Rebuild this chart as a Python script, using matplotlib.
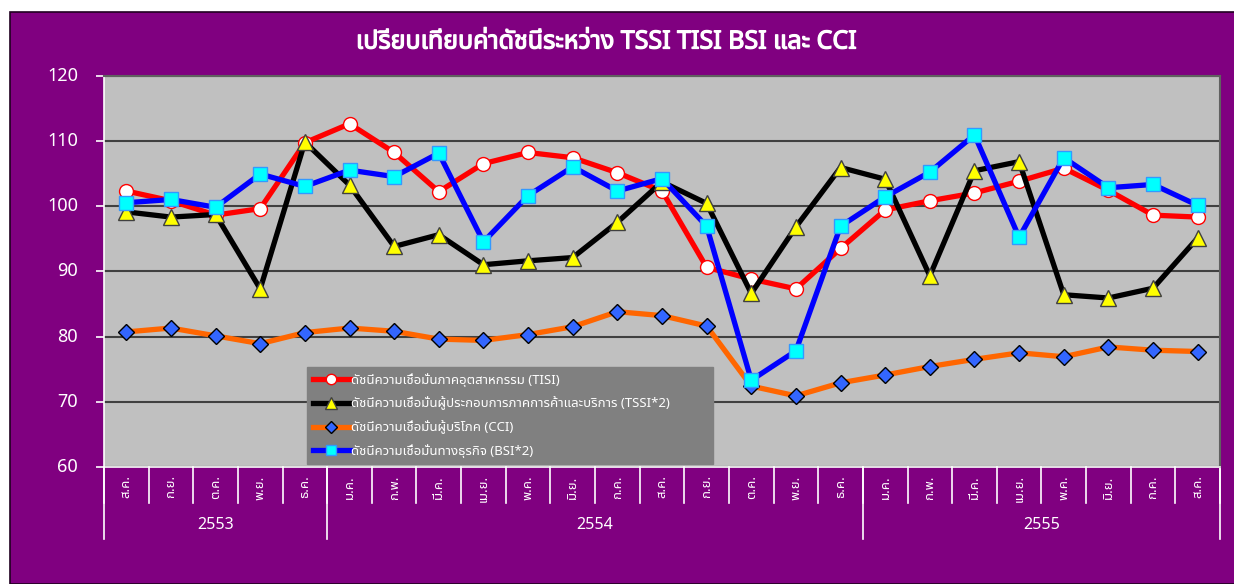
import numpy as np
import matplotlib
matplotlib.use("Agg")
import matplotlib.pyplot as plt
from matplotlib import font_manager
from matplotlib.ft2font import FT2Font
from matplotlib.patches import Rectangle
import matplotlib.patheffects as pe
import matplotlib.transforms as mtransforms

# --- data ---
months = ['ส.ค.', 'ก.ย.', 'ต.ค.', 'พ.ย.', 'ธ.ค.',
          'ม.ค.', 'ก.พ.', 'มี.ค.', 'เม.ย.', 'พ.ค.', 'มิ.ย.', 'ก.ค.', 'ส.ค.', 'ก.ย.', 'ต.ค.', 'พ.ย.', 'ธ.ค.',
          'ม.ค.', 'ก.พ.', 'มี.ค.', 'เม.ย.', 'พ.ค.', 'มิ.ย.', 'ก.ค.', 'ส.ค.']
years = ['2553', '2554', '2555']
year_sizes = [5, 12, 8]
yticks = [60, 70, 80, 90, 100, 110, 120]

tisi = [102.3, 100.8, 98.6, 99.6, 109.7, 112.6, 108.2, 102.2, 106.5, 108.2, 107.4, 105.1, 102.3,
        90.6, 88.8, 87.3, 93.5, 99.4, 100.8, 102.0, 103.8, 105.8, 102.4, 98.6, 98.3]
tssi = [99.1, 98.3, 98.7, 87.3, 109.8, 103.2, 93.8, 95.6, 91.0, 91.6, 92.1, 97.5, 103.7,
        100.4, 86.6, 96.8, 105.9, 104.1, 89.3, 105.4, 106.8, 86.4, 85.9, 87.4, 95.1]
cci = [80.7, 81.3, 80.1, 78.9, 80.6, 81.3, 80.8, 79.6, 79.4, 80.3, 81.5, 83.8, 83.2,
       81.6, 72.4, 70.9, 72.9, 74.1, 75.4, 76.5, 77.5, 76.9, 78.4, 77.9, 77.7]
bsi = [100.5, 101.0, 99.8, 104.9, 103.0, 105.5, 104.5, 108.1, 94.5, 101.6, 106.0, 102.3, 104.2,
       96.9, 73.3, 77.8, 96.9, 101.4, 105.2, 110.9, 95.2, 107.4, 102.8, 103.3, 100.1]

labels = ['ดัชนีความเชื่อมั่นภาคอุตสาหกรรม (TISI)',
          'ดัชนีความเชื่อมั่นผู้ประกอบการภาคการค้าและบริการ (TSSI*2)',
          'ดัชนีความเชื่อมั่นผู้บริโภค (CCI)',
          'ดัชนีความเชื่อมั่นทางธุรกิจ (BSI*2)']
title = 'เปรียบเทียบค่าดัชนีระหว่าง TSSI TISI BSI และ CCI'


def thai_family():
    preferred = ['Tahoma', 'Noto Sans Thai', 'Noto Sans Thai UI', 'Loma', 'Garuda', 'Norasi',
                 'Waree', 'Sarabun', 'TH Sarabun New', 'FreeSans']
    found = {}
    paths = set(font_manager.findSystemFonts()) | {f.fname for f in font_manager.fontManager.ttflist}
    for p in paths:
        try:
            if 0x0E14 in FT2Font(p).get_charmap():
                name = font_manager.FontProperties(fname=p).get_name()
                font_manager.fontManager.addfont(p)
                found[name] = p
        except Exception:
            pass
    for name in preferred:
        if name in found:
            return name
    return sorted(found)[0] if found else None


thai = thai_family()
fams = ([thai] if thai else []) + ['DejaVu Sans']
plt.rcParams['font.family'] = fams

purple = '#800080'
fig = plt.figure(figsize=(12.34, 5.84), dpi=100, facecolor='white')
W, H = 1234, 584
fig.patches.append(Rectangle((10 / W, 0), 1 - 10 / W + 0.01, 1 - 12 / H, transform=fig.transFigure,
                             facecolor=purple, edgecolor='#200020', linewidth=1.2, zorder=-10))

ax = fig.add_axes([104 / W, 1 - 467 / H, (1220 - 104) / W, (467 - 75.5) / H])
ax.set_facecolor('#C0C0C0')
x = np.arange(len(months))

ax.plot(x, tisi, color='#FF0000', lw=3.8, marker='o', ms=10, mfc='white', mec='#FF0000', mew=1, label=labels[0])
ax.plot(x, tssi, color='black', lw=3.8, marker='^', ms=11, mfc='#FFFF00', mec='#404040', mew=1, label=labels[1])
ax.plot(x, cci, color='#FF6600', lw=3.8, marker='D', ms=8, mfc='#3366FF', mec='black', mew=1, label=labels[2])
ax.plot(x, bsi, color='#0000FF', lw=3.8, marker='s', ms=10, mfc='#00FFFF', mec='#3399FF', mew=1, label=labels[3])

ax.set_xlim(-0.5, len(months) - 0.5)
ax.set_ylim(60, 120)
ax.set_yticks(yticks)
ax.set_yticklabels([])
ax.yaxis.grid(True, color='#404040', lw=1.5)
ax.set_axisbelow(True)
ax.tick_params(axis='y', colors='white', length=6, width=1.2)

# y labels placed by hand so they sit right-aligned at the reference spot
ytrans = mtransforms.blended_transform_factory(fig.transFigure, ax.transData)
for v in yticks:
    fig.text(78 / W, v, str(v), transform=ytrans, ha='right', va='center', color='white', fontsize=13)

for s in ['top', 'right']:
    ax.spines[s].set_color('#606060')
    ax.spines[s].set_linewidth(1.5)
ax.spines['left'].set_color('white')
ax.spines['bottom'].set_color('white')
ax.spines['left'].set_linewidth(1.2)
ax.spines['bottom'].set_linewidth(1.2)

# month labels
ax.set_xticks(x)
ax.set_xticklabels(months, rotation=90, fontsize=9.5, color='white')
ax.tick_params(axis='x', length=0, pad=6)

# category separators and year groups
trans = mtransforms.blended_transform_factory(ax.transData, ax.transAxes)
ax_h = 467 - 75.5
for b in np.arange(len(months) + 1) - 0.5:
    ax.plot([b, b], [0, -36 / ax_h], color='white', lw=1.2, transform=trans, clip_on=False)
edges = np.concatenate([[0], np.cumsum(year_sizes)]) - 0.5
for b in edges:
    ax.plot([b, b], [0, -72 / ax_h], color='white', lw=1.2, transform=trans, clip_on=False)
for i, yr in enumerate(years):
    ax.text((edges[i] + edges[i + 1]) / 2, -58 / ax_h, yr, transform=trans, ha='center', va='center',
            color='white', fontsize=11.5)

leg = ax.legend(loc='upper left', bbox_to_anchor=(307 / W, 1 - 463 / H, (713 - 307) / W, (463 - 367) / H),
                bbox_transform=fig.transFigure, mode='expand', borderaxespad=0, frameon=True, fancybox=False,
                fontsize=9.5, handlelength=2.8, handletextpad=0.1, labelspacing=0.75, borderpad=0.45,
                markerscale=0.75)
leg.get_frame().set_facecolor('#808080')
leg.get_frame().set_edgecolor('#808080')
leg.get_frame().set_alpha(1)
for t in leg.get_texts():
    t.set_color('white')

fig.text(606 / W, 1 - 42 / H, title, ha='center', va='center', color='white', fontsize=18, fontweight='bold',
         path_effects=[pe.withStroke(linewidth=0.9, foreground='white')])

fig.savefig('out.png', dpi=100, facecolor='white')
